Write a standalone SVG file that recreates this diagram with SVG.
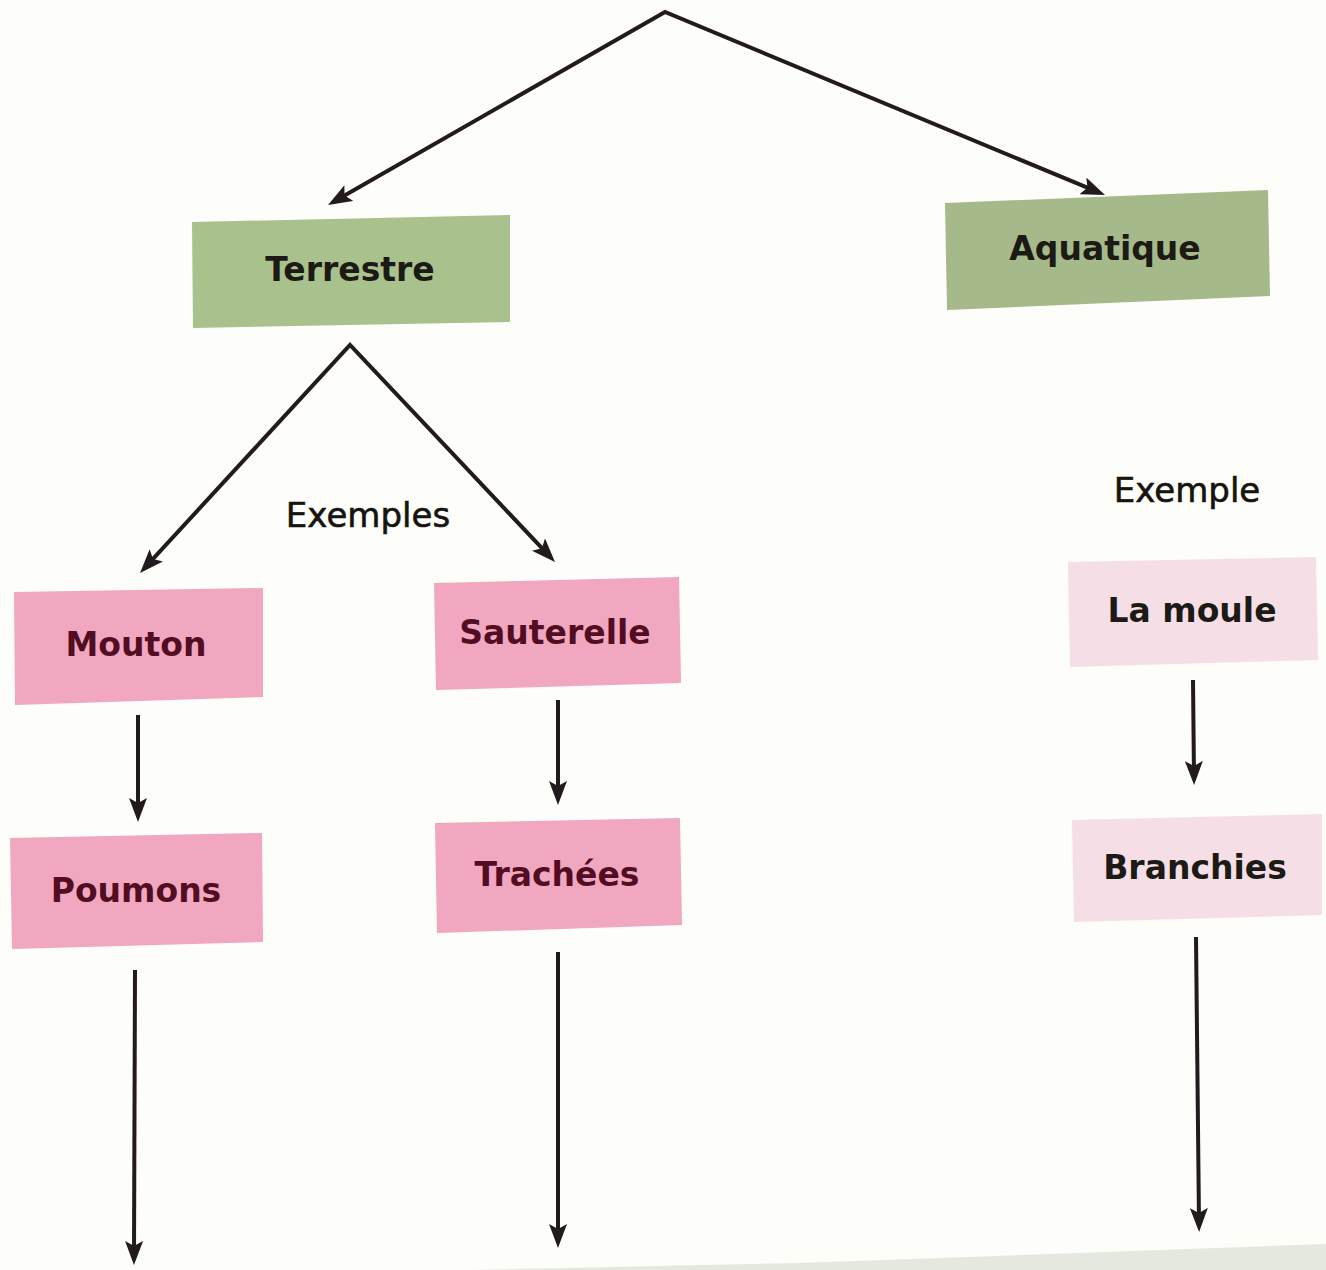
<svg xmlns="http://www.w3.org/2000/svg" width="1326" height="1270" viewBox="0 0 1326 1270">
<defs>
<marker id="ah" markerUnits="userSpaceOnUse" markerWidth="26" markerHeight="18" refX="14" refY="9" orient="auto-start-reverse">
<path d="M0,0 L24,9 L0,18 L5,9 z" fill="#231a1e"/>
</marker>
</defs>
<style>
.bg{fill:#fdfdfa}
.green{fill:#a9c18d}
.green2{fill:#a6b98b}
.pink{fill:#f1a7bf}
.pale{fill:#f6dee6}
.lbl{font-family:"DejaVu Sans",sans-serif;font-weight:bold;font-size:33px;text-anchor:middle}
.dark{fill:#1b1a14}
.red{fill:#520d22}
.note{font-family:"DejaVu Sans",sans-serif;font-size:34px;text-anchor:middle;fill:#16140f;stroke:#16140f;stroke-width:0.6}
.conn{stroke:#231a1e;stroke-width:4;fill:none;stroke-linecap:butt;stroke-linejoin:miter;marker-end:url(#ah)}
.fork{marker-start:url(#ah)}
</style>
<rect class="bg" x="0" y="0" width="1326" height="1270"/>
<polygon points="470,1270 800,1263 1326,1244 1326,1270" fill="#dde2d8" opacity="0.8"/>

<g id="connectors">
<path class="conn fork" d="M336.7,200 L665,12 L1095.8,191.2"/>
<path class="conn fork" d="M146.8,565.6 L350,345 L548.1,554.7"/>
<line class="conn" x1="138" y1="715" x2="138" y2="812"/>
<line class="conn" x1="558" y1="700" x2="558" y2="795"/>
<line class="conn" x1="1193" y1="680" x2="1194" y2="775"/>
<line class="conn" x1="135" y1="970" x2="134" y2="1255"/>
<line class="conn" x1="558" y1="952" x2="558" y2="1238"/>
<line class="conn" x1="1196" y1="937" x2="1199" y2="1222"/>
</g>

<g id="terrestre">
<polygon class="green" points="192,222 510,215 510,322 193,328"/>
<text class="lbl dark" x="350" y="281">Terrestre</text>
</g>
<g id="aquatique">
<polygon class="green2" points="945,203 1268,190 1270,296 947,310"/>
<text class="lbl dark" x="1105" y="260">Aquatique</text>
</g>
<g id="label-exemples">
<text class="note" x="368" y="527">Exemples</text>
</g>
<g id="label-exemple">
<text class="note" x="1187" y="502">Exemple</text>
</g>
<g id="mouton">
<polygon class="pink" points="14,592 263,588 263,697 15,705"/>
<text class="lbl red" x="136" y="656">Mouton</text>
</g>
<g id="sauterelle">
<polygon class="pink" points="434,583 679,577 681,683 436,690"/>
<text class="lbl red" x="555" y="644">Sauterelle</text>
</g>
<g id="la-moule">
<polygon class="pale" points="1068,562 1316,557 1318,660 1070,667"/>
<text class="lbl dark" x="1192" y="622">La moule</text>
</g>
<g id="poumons">
<polygon class="pink" points="10,838 262,833 263,942 12,949"/>
<text class="lbl red" x="136" y="902">Poumons</text>
</g>
<g id="trachees">
<polygon class="pink" points="435,823 680,818 682,925 437,933"/>
<text class="lbl red" x="557" y="886">Trachées</text>
</g>
<g id="branchies">
<polygon class="pale" points="1072,820 1322,814 1322,915 1074,922"/>
<text class="lbl dark" x="1195" y="879">Branchies</text>
</g>
</svg>
